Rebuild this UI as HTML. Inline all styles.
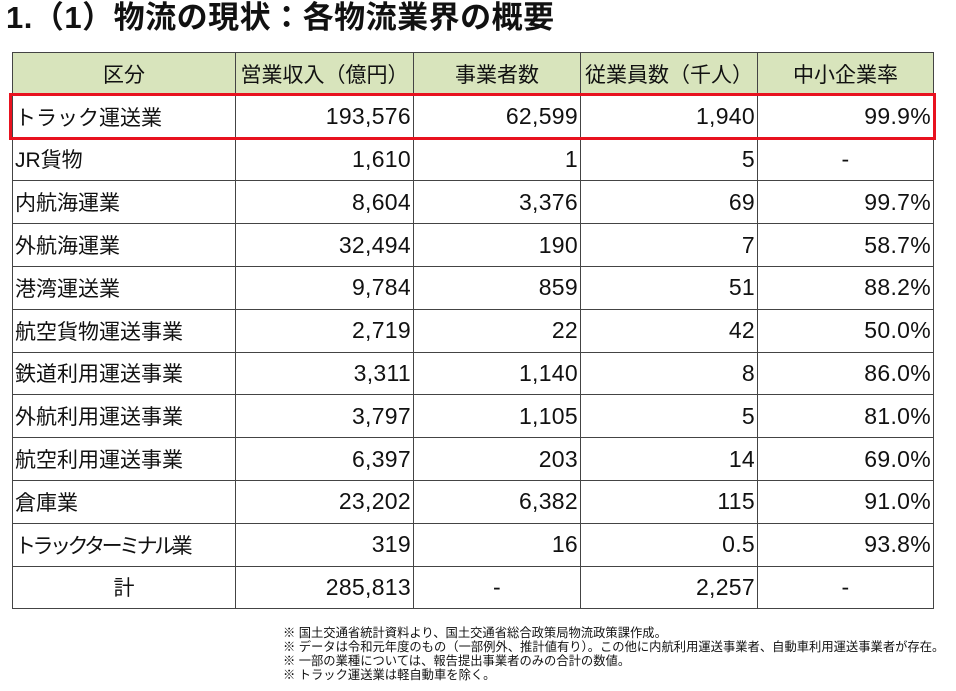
<!DOCTYPE html>
<html><head><meta charset="utf-8"><style>
body{margin:0;width:956px;height:691px;background:#fff;position:relative;overflow:hidden;font-family:"Liberation Sans","Noto Sans CJK JP",sans-serif;color:#111}
h1{position:absolute;left:6px;top:-2px;margin:0;font-size:31px;line-height:40px;font-weight:bold;letter-spacing:0.5px}
table{position:absolute;left:12px;top:52px;border-collapse:collapse;table-layout:fixed}
td{border:1.5px solid #444;height:41.8px;padding:0 2px;font-size:21px;text-align:right;white-space:nowrap;overflow:hidden}
td:not(:first-child){font-size:23px;letter-spacing:0.3px}
tr.h td{letter-spacing:0;font-size:21px}
td:first-child{text-align:left}
tr.h td{background:#d8e4bc;text-align:center}
td.c{text-align:center!important}
.red{position:absolute;left:9px;top:93px;width:921px;height:41px;border:3px solid #e8121f}
.fn{position:absolute;left:283px;top:626px;font-size:12.3px;line-height:14px;white-space:nowrap}
</style></head><body>
<h1>1.（1）物流の現状：各物流業界の概要</h1>
<table>
<colgroup><col style="width:223px"><col style="width:178px"><col style="width:167px"><col style="width:177px"><col style="width:176px"></colgroup>
<tr class="h"><td>区分</td><td>営業収入（億円）</td><td>事業者数</td><td>従業員数（千人）</td><td>中小企業率</td></tr>
<tr><td>トラック運送業</td><td>193,576</td><td>62,599</td><td>1,940</td><td>99.9%</td></tr>
<tr><td>JR貨物</td><td>1,610</td><td>1</td><td>5</td><td class="c">-</td></tr>
<tr><td>内航海運業</td><td>8,604</td><td>3,376</td><td>69</td><td>99.7%</td></tr>
<tr><td>外航海運業</td><td>32,494</td><td>190</td><td>7</td><td>58.7%</td></tr>
<tr><td>港湾運送業</td><td>9,784</td><td>859</td><td>51</td><td>88.2%</td></tr>
<tr><td>航空貨物運送事業</td><td>2,719</td><td>22</td><td>42</td><td>50.0%</td></tr>
<tr><td>鉄道利用運送事業</td><td>3,311</td><td>1,140</td><td>8</td><td>86.0%</td></tr>
<tr><td>外航利用運送事業</td><td>3,797</td><td>1,105</td><td>5</td><td>81.0%</td></tr>
<tr><td>航空利用運送事業</td><td>6,397</td><td>203</td><td>14</td><td>69.0%</td></tr>
<tr><td>倉庫業</td><td>23,202</td><td>6,382</td><td>115</td><td>91.0%</td></tr>
<tr><td style="letter-spacing:-3.5px">トラックターミナル業</td><td>319</td><td>16</td><td>0.5</td><td>93.8%</td></tr>
<tr><td class="c">計</td><td>285,813</td><td class="c">-</td><td>2,257</td><td class="c">-</td></tr>
</table>
<div class="red"></div>
<div class="fn">※ 国土交通省統計資料より、国土交通省総合政策局物流政策課作成。<br>※ データは令和元年度のもの（一部例外、推計値有り）。この他に内航利用運送事業者、自動車利用運送事業者が存在。<br>※ 一部の業種については、報告提出事業者のみの合計の数値。<br>※ トラック運送業は軽自動車を除く。</div>
</body></html>
